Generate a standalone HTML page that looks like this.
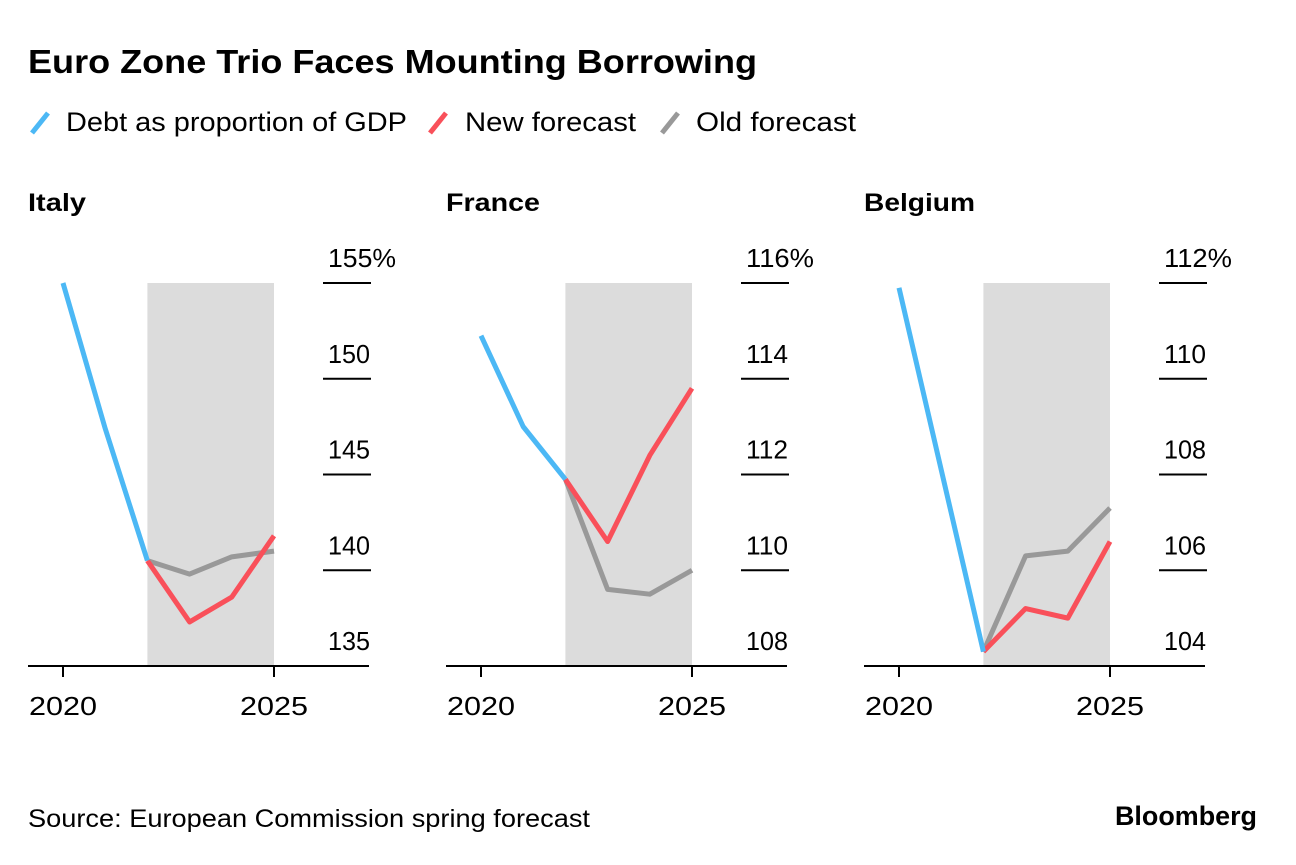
<!DOCTYPE html>
<html><head><meta charset="utf-8"><style>
body{margin:0;background:#fff;font-family:"Liberation Sans",Arial,sans-serif;}
svg text{font-family:"Liberation Sans",Arial,sans-serif;}
</style></head><body>
<svg id="c" width="1296" height="860" viewBox="0 0 1296 860">
<text x="28" y="73" font-size="33" font-weight="bold" fill="#000" textLength="729" lengthAdjust="spacingAndGlyphs">Euro Zone Trio Faces Mounting Borrowing</text>
<g>
<line x1="32" y1="133" x2="48" y2="113" stroke="#4cb8f5" stroke-width="5"/>
<text x="66" y="131" font-size="27" textLength="341" lengthAdjust="spacingAndGlyphs">Debt as proportion of GDP</text>
<line x1="430" y1="133" x2="446" y2="113" stroke="#f9505a" stroke-width="5"/>
<text x="465" y="131" font-size="27" textLength="171" lengthAdjust="spacingAndGlyphs">New forecast</text>
<line x1="662" y1="133" x2="678" y2="113" stroke="#999" stroke-width="5"/>
<text x="696" y="131" font-size="27" textLength="160" lengthAdjust="spacingAndGlyphs">Old forecast</text>
</g>
<g id="panels"></g>
<text x="28" y="827" font-size="25" textLength="562" lengthAdjust="spacingAndGlyphs">Source: European Commission spring forecast</text>
<text x="1115" y="825" font-size="27" font-weight="bold" textLength="142" lengthAdjust="spacingAndGlyphs">Bloomberg</text>
</svg>
<script>
const years=[2020,2021,2022,2023,2024,2025];
const countries=["Italy","France","Belgium"];
const titleWidths=[58,94,111];
const ticksItaly=[135,140,145,150,155];
const ticksFrance=[108,110,112,114,116];
const ticksBelgium=[104,106,108,110,112];
const debtItaly=[155.0,147.4,140.5];
const newItaly=[140.5,137.3,138.6,141.8];
const oldItaly=[140.5,139.8,140.7,141.0];
const debtFrance=[114.9,113.0,111.9];
const newFrance=[111.9,110.6,112.4,113.8];
const oldFrance=[111.9,109.6,109.5,110.0];
const debtBelgium=[111.9,108.1,104.3];
const newBelgium=[104.3,105.2,105.0,106.6];
const oldBelgium=[104.3,106.3,106.4,107.3];
const ticks=[ticksItaly,ticksFrance,ticksBelgium];
const debt=[debtItaly,debtFrance,debtBelgium];
const nw=[newItaly,newFrance,newBelgium];
const od=[oldItaly,oldFrance,oldBelgium];
const NS="http://www.w3.org/2000/svg";
const root=document.getElementById('panels');
function mk(tag,attrs,parent){const e=document.createElementNS(NS,tag);for(const k in attrs)e.setAttribute(k,attrs[k]);parent.appendChild(e);return e;}
countries.forEach((name,i)=>{
  const off=i*418;
  const g=mk('g',{},root);
  
  
  const t=ticks[i];
  const x=yr=>63+off+(yr-2020)*42.2;
  const y=v=>666-(v-t[0])/(t[t.length-1]-t[0])*383;
  const title=mk('text',{x:28+off,y:211,'font-size':25,'font-weight':'bold',textLength:titleWidths[i],lengthAdjust:'spacingAndGlyphs'},g);
  title.textContent=name;
  
  
  const sh=mk('rect',{x:x(2022),y:y(t[t.length-1]),width:x(2025)-x(2022),height:y(t[0])-y(t[t.length-1]),fill:'#dcdcdc'},g);
  
  
  t.forEach((v,k)=>{
    if(k>0){
      const tl=mk('line',{x1:323+off,x2:371+off,y1:y(v),y2:y(v),stroke:'#000','stroke-width':2},g);
      
      
    }
    const lb=mk('text',{x:370+off,y:y(v)-16,'font-size':26,'text-anchor':'end',textLength:42,lengthAdjust:'spacingAndGlyphs'},g);
    lb.textContent=v;
    if(k===t.length-1){lb.setAttribute('text-anchor','start');lb.setAttribute('x',328+off);lb.setAttribute('textLength',68);lb.textContent=v+'%';}
    
    
  });
  const bl=mk('line',{x1:28+off,x2:369+off,y1:666,y2:666,stroke:'#000','stroke-width':2},g);
  
  
  [2020,2025].forEach(yr=>{
    const tk=mk('line',{x1:x(yr),x2:x(yr),y1:666,y2:677,stroke:'#000','stroke-width':2},g);
    
    
    const tl=mk('text',{x:x(yr)-34,y:715,'font-size':26,textLength:68,lengthAdjust:'spacingAndGlyphs'},g);
    tl.textContent=yr;
    
    
  });
  const line=(vals,startIdx,color,nm)=>{
    const pts=vals.map((v,k)=>x(years[startIdx+k])+','+y(v)).join(' ');
    const p=mk('polyline',{points:pts,fill:'none',stroke:color,'stroke-width':5,'stroke-linejoin':'round'},g);
    
    
  };
  line(od[i],2,'#999','old-forecast-line');
  line(nw[i],2,'#f9505a','new-forecast-line');
  line(debt[i],0,'#4cb8f5','debt-line');
});
</script>
</body></html>
